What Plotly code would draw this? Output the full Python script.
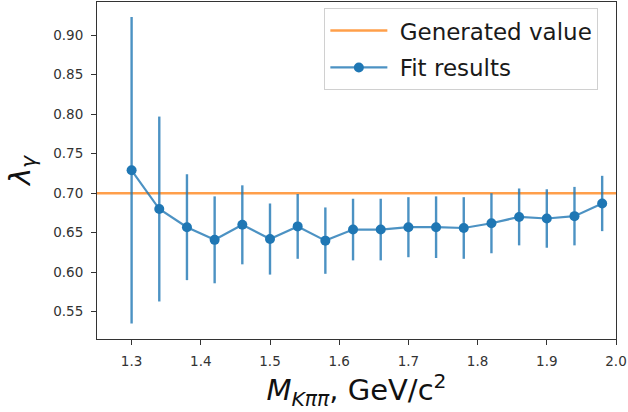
import plotly.graph_objects as go

# Data
mass = [1.30, 1.34, 1.38, 1.42, 1.46, 1.50, 1.54, 1.58, 1.62,
        1.66, 1.70, 1.74, 1.78, 1.82, 1.86, 1.90, 1.94, 1.98]
lam = [0.729, 0.680, 0.657, 0.641, 0.660, 0.642, 0.658, 0.640, 0.654,
       0.654, 0.657, 0.657, 0.656, 0.662, 0.670, 0.668, 0.671, 0.687]
lam_err = [0.194, 0.117, 0.067, 0.055, 0.050, 0.045, 0.041, 0.042, 0.039,
           0.039, 0.038, 0.039, 0.039, 0.038, 0.036, 0.037, 0.037, 0.035]
generated_value = 0.70
x_range = [1.25, 2.0]
y_range = [0.5155, 0.942]
x_ticks = [1.3, 1.4, 1.5, 1.6, 1.7, 1.8, 1.9, 2.0]
y_ticks = [0.55, 0.60, 0.65, 0.70, 0.75, 0.80, 0.85, 0.90]

BLUE = "#1f77b4"
BLUE_A = "rgba(31,119,180,0.8)"
ORANGE_A = "rgba(255,127,14,0.75)"
AX = "#333333"
FONT = "DejaVu Sans"
NB = "\u00a0"

fig = go.Figure()
fig.add_trace(go.Scatter(
    x=x_range, y=[generated_value, generated_value], mode="lines",
    line=dict(color=ORANGE_A, width=2.5), name=NB + "Generated value",
    legendgroup="gen", hoverinfo="skip"))
fig.add_trace(go.Scatter(
    x=mass, y=lam, mode="lines+markers", name=NB + "Fit results",
    legendgroup="fit",
    line=dict(color=BLUE_A, width=2.2),
    marker=dict(color=BLUE, size=10),
    error_y=dict(type="data", array=lam_err, color=BLUE_A, thickness=2.4, width=0)))

axis_common = dict(
    showgrid=False, zeroline=False, showline=True, mirror=True,
    linecolor=AX, linewidth=1, ticks="outside", ticklen=5, tickwidth=1,
    tickcolor=AX, ticklabelstandoff=5,
    tickfont=dict(family=FONT, size=13.5, color=AX))

fig.update_xaxes(range=x_range, tickvals=x_ticks, tickformat=".1f",
                 title=dict(text="<i>M</i><sub><i>Kππ</i></sub>, GeV/c<sup>2</sup>",
                            font=dict(family=FONT, size=29, color="#111"), standoff=4),
                 **axis_common)
fig.update_yaxes(range=y_range, tickvals=y_ticks, tickformat=".2f",
                 title=dict(text="<i>λ</i><sub><i>γ</i></sub>",
                            font=dict(family=FONT, size=29, color="#111"), standoff=14),
                 **axis_common)

fig.update_layout(
    width=628, height=412,
    margin=dict(l=97, r=12, t=2, b=73, autoexpand=False),
    plot_bgcolor="white", paper_bgcolor="white",
    showlegend=True,
    legend=dict(x=0.966, y=0.982, xanchor="right", yanchor="top",
                bgcolor="rgba(255,255,255,0.8)", bordercolor="#d0d0d0", borderwidth=1,
                font=dict(family=FONT, size=23, color="#1a1a1a"),
                itemwidth=57, tracegroupgap=4),
    font=dict(family=FONT),
)

fig.write_html("out.html", config={"displayModeBar": False},
               post_script="document.body.style.margin='0px';document.body.style.overflow='hidden';")
